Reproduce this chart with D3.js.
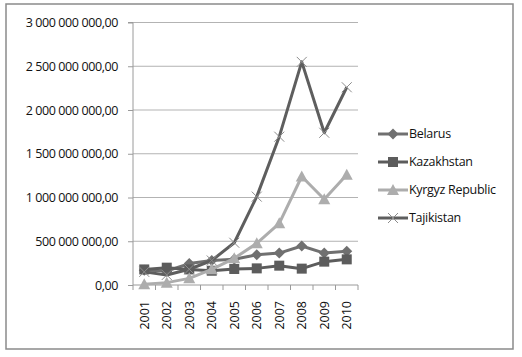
<!DOCTYPE html>
<html><head><meta charset="utf-8">
<script src="https://cdn.jsdelivr.net/npm/d3@7"></script>
<style>body{margin:0;background:#fff}svg{display:block}text{font-family:"Open Sans","Liberation Sans",sans-serif}</style>
</head><body>
<svg id="c" width="522" height="357"></svg>
<script>
const years = ["2001","2002","2003","2004","2005","2006","2007","2008","2009","2010"];
const belarus = [170e6,160e6,245e6,280e6,295e6,345e6,365e6,446e6,365e6,385e6];
const kazakhstan = [178e6,198e6,178e6,163e6,183e6,190e6,221e6,187e6,267e6,293e6];
const kyrgyz = [10e6,27e6,76e6,179e6,305e6,476e6,705e6,1240e6,980e6,1260e6];
const tajikistan = [150e6,115e6,180e6,280e6,483e6,1010e6,1695e6,2550e6,1740e6,2260e6];
const yTicks = [0,500e6,1000e6,1500e6,2000e6,2500e6,3000e6];
const seriesNames = ["Belarus","Kazakhstan","Kyrgyz Republic","Tajikistan"];

const series = [
  {name:seriesNames[0], values:belarus, color:"#707070", marker:"diamond"},
  {name:seriesNames[1], values:kazakhstan, color:"#5c5c5c", marker:"square"},
  {name:seriesNames[2], values:kyrgyz, color:"#adadad", marker:"triangle"},
  {name:seriesNames[3], values:tajikistan, color:"#5e5e5e", marker:"x"}
];

const svg = d3.select("#c");
svg.append("rect").attr("x",6).attr("y",4).attr("width",507).attr("height",345)
  .attr("fill","#fff").attr("stroke","#8a8a8a").attr("stroke-width",1.5);

const L=133, R=358, T=22.5, B=285;
const x = d3.scaleBand().domain(years).range([L,R]);
const y = d3.scaleLinear().domain([0,3e9]).range([B,T]);

const fmt = v => {
  const s = d3.format(",.2f")(v);
  return s.replace(/\./,"#").replace(/,/g," ").replace("#",",");
};

// gridlines
svg.append("g").selectAll("line").data(yTicks.filter(d=>d>0)).join("line")
  .attr("x1",L).attr("x2",R).attr("y1",d=>y(d)).attr("y2",d=>y(d))
  .attr("stroke","#b3b3b3").attr("stroke-width",1);

// y axis
const ya = svg.append("g").attr("transform",`translate(${L},0)`)
  .call(d3.axisLeft(y).tickValues(yTicks).tickSize(5).tickPadding(10).tickFormat(fmt));
ya.select(".domain").attr("stroke","#9a9a9a").attr("d",`M-5,${T}H0V${B}`);
ya.selectAll(".tick line").attr("stroke","#9a9a9a");
ya.selectAll("text").attr("font-size",12.5).attr("fill","#111").style("letter-spacing","-0.4px");

// x axis
const xa = svg.append("g").attr("transform",`translate(0,${B})`)
  .call(d3.axisBottom(x).tickSize(0).tickPadding(0));
xa.select(".domain").attr("stroke","#9a9a9a").attr("d",`M${L},0H${R}`);
xa.selectAll(".tick line").remove();
// category boundary ticks
svg.append("g").selectAll("line").data(d3.range(years.length+1)).join("line")
  .attr("x1",i=>L+i*x.step()).attr("x2",i=>L+i*x.step())
  .attr("y1",B).attr("y2",B+5).attr("stroke","#9a9a9a");
xa.selectAll(".tick text").attr("font-size",12.5).attr("fill","#111")
  .attr("transform","rotate(-90)").attr("text-anchor","end")
  .attr("x",-16).attr("y",0).attr("dy","0.35em");

const cx = d => x(d)+x.bandwidth()/2;
const line = d3.line().x((d,i)=>cx(years[i])).y(d=>y(d));

function drawMarker(g, type, color, px, py){
  if(type==="diamond"){
    g.append("path").attr("d",`M${px},${py-5.5}L${px+5.5},${py}L${px},${py+5.5}L${px-5.5},${py}Z`).attr("fill",color);
  } else if(type==="square"){
    g.append("rect").attr("x",px-5).attr("y",py-5).attr("width",10).attr("height",10).attr("fill",color);
  } else if(type==="triangle"){
    g.append("path").attr("d",`M${px},${py-6}L${px+6},${py+5}L${px-6},${py+5}Z`).attr("fill",color);
  } else {
    g.append("path").attr("d",`M${px-5},${py-5}L${px+5},${py+5}M${px+5},${py-5}L${px-5},${py+5}`)
      .attr("stroke","#8c8c8c").attr("stroke-width",1).attr("fill","none");
  }
}

series.forEach(s=>{
  const g = svg.append("g");
  g.append("path").datum(s.values).attr("d",line).attr("fill","none")
    .attr("stroke",s.color).attr("stroke-width",3).attr("stroke-linejoin","round");
  s.values.forEach((v,i)=>drawMarker(g,s.marker,s.color,cx(years[i]),y(v)));
});

// legend
const lg = svg.append("g");
series.forEach((s,i)=>{
  const ly = 134 + i*28;
  lg.append("line").attr("x1",378).attr("x2",408).attr("y1",ly).attr("y2",ly)
    .attr("stroke",s.color).attr("stroke-width",3);
  drawMarker(lg,s.marker,s.color,393,ly);
  lg.append("text").attr("x",409).attr("y",ly).attr("dy","0.35em")
    .attr("font-size",12.5).attr("fill","#111").style("letter-spacing","-0.3px").text(s.name);
});
</script>
</body></html>
